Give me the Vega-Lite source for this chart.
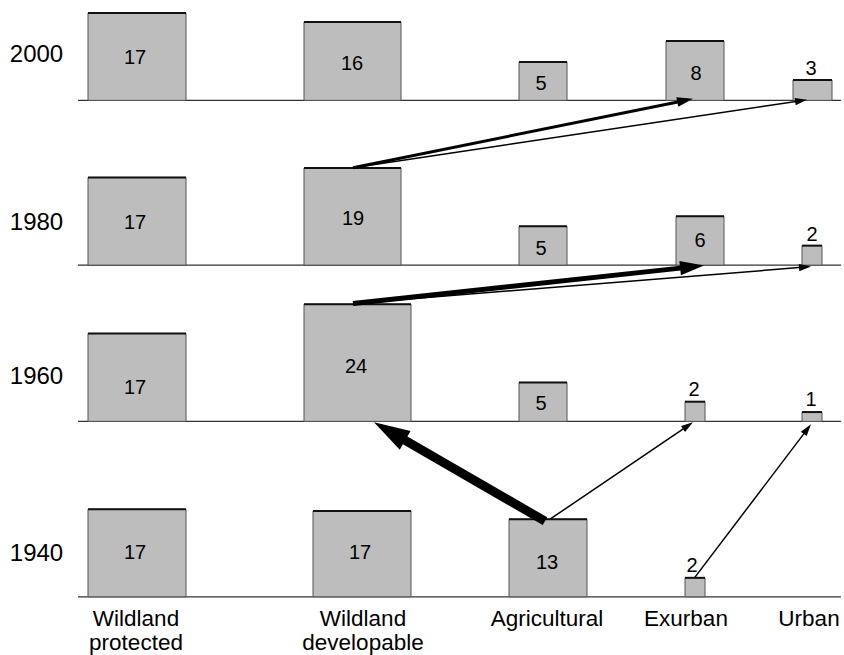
{
  "$schema": "https://vega.github.io/schema/vega-lite/v6.json",
  "width": 844,
  "height": 655,
  "autosize": {"type": "fit", "contains": "padding"},
  "padding": 0,
  "config": {"view": {"stroke": null}, "font": "Liberation Sans"},
  "datasets": {
    "rows": [
      {"year": "2000", "base": 554.5, "left": 78, "right": 841, "yearX": 36.5, "yearY": 592.5},
      {"year": "1980", "base": 389.5, "left": 78, "right": 841, "yearX": 36.5, "yearY": 425},
      {"year": "1960", "base": 233, "left": 78, "right": 841, "yearX": 36.5, "yearY": 270},
      {"year": "1940", "base": 57.3, "left": 78, "right": 841, "yearX": 36.5, "yearY": 93.5}
    ],
    "bars": [
      {"year": "2000", "cat": "Wildland protected", "value": 17, "x0": 88, "x1": 186, "base": 554.5, "top": 642, "lx": 135, "ly": 591},
      {"year": "2000", "cat": "Wildland developable", "value": 16, "x0": 304, "x1": 401, "base": 554.5, "top": 633, "lx": 352, "ly": 584.5},
      {"year": "2000", "cat": "Agricultural", "value": 5, "x0": 519, "x1": 567, "base": 554.5, "top": 593, "lx": 541, "ly": 565},
      {"year": "2000", "cat": "Exurban", "value": 8, "x0": 666, "x1": 724, "base": 554.5, "top": 614, "lx": 696, "ly": 575.3},
      {"year": "2000", "cat": "Urban", "value": 3, "x0": 793, "x1": 832, "base": 554.5, "top": 575, "lx": 811, "ly": 580},
      {"year": "1980", "cat": "Wildland protected", "value": 17, "x0": 88, "x1": 186, "base": 389.5, "top": 477.3, "lx": 135, "ly": 425.5},
      {"year": "1980", "cat": "Wildland developable", "value": 19, "x0": 304, "x1": 401, "base": 389.5, "top": 486.7, "lx": 353, "ly": 429.5},
      {"year": "1980", "cat": "Agricultural", "value": 5, "x0": 519, "x1": 567, "base": 389.5, "top": 428.3, "lx": 541, "ly": 399.5},
      {"year": "1980", "cat": "Exurban", "value": 6, "x0": 676, "x1": 724, "base": 389.5, "top": 438.3, "lx": 700, "ly": 407.8},
      {"year": "1980", "cat": "Urban", "value": 2, "x0": 802, "x1": 822, "base": 389.5, "top": 409, "lx": 812, "ly": 414},
      {"year": "1960", "cat": "Wildland protected", "value": 17, "x0": 88, "x1": 186, "base": 233, "top": 321, "lx": 135, "ly": 260.5},
      {"year": "1960", "cat": "Wildland developable", "value": 24, "x0": 304, "x1": 411, "base": 233, "top": 350.3, "lx": 356, "ly": 281},
      {"year": "1960", "cat": "Agricultural", "value": 5, "x0": 519, "x1": 567, "base": 233, "top": 272, "lx": 541, "ly": 244},
      {"year": "1960", "cat": "Exurban", "value": 2, "x0": 685, "x1": 705, "base": 233, "top": 252.7, "lx": 694, "ly": 258.5},
      {"year": "1960", "cat": "Urban", "value": 1, "x0": 802, "x1": 822, "base": 233, "top": 242.3, "lx": 811, "ly": 248.8},
      {"year": "1940", "cat": "Wildland protected", "value": 17, "x0": 88, "x1": 186, "base": 57.3, "top": 145, "lx": 135, "ly": 95},
      {"year": "1940", "cat": "Wildland developable", "value": 17, "x0": 313, "x1": 411, "base": 57.3, "top": 143.3, "lx": 360, "ly": 95},
      {"year": "1940", "cat": "Agricultural", "value": 13, "x0": 509, "x1": 587, "base": 57.3, "top": 135, "lx": 547, "ly": 85.5},
      {"year": "1940", "cat": "Exurban", "value": 2, "x0": 685, "x1": 705, "base": 57.3, "top": 76.3, "lx": 692, "ly": 82}
    ],
    "flows": [
      {"from": "Wildland developable 1980", "to": "Exurban 2000", "flow": 2, "x": 353, "y": 487, "tx": 693, "ty": 556},
      {"from": "Wildland developable 1980", "to": "Urban 2000", "flow": 1, "x": 353, "y": 487, "tx": 807, "ty": 555},
      {"from": "Wildland developable 1960", "to": "Exurban 1980", "flow": 4, "x": 353, "y": 351, "tx": 704, "ty": 389},
      {"from": "Wildland developable 1960", "to": "Urban 1980", "flow": 1, "x": 353, "y": 351, "tx": 811, "ty": 388},
      {"from": "Agricultural 1940", "to": "Wildland developable 1960", "flow": 7, "x": 545, "y": 133, "tx": 374, "ty": 232},
      {"from": "Agricultural 1940", "to": "Exurban 1960", "flow": 1, "x": 550, "y": 135, "tx": 693, "ty": 232},
      {"from": "Exurban 1940", "to": "Urban 1960", "flow": 1, "x": 695, "y": 77, "tx": 811, "ty": 230}
    ],
    "cats": [
      {"name": "Wildland\nprotected", "cx": 136, "cy": 28},
      {"name": "Wildland\ndevelopable", "cx": 363, "cy": 28},
      {"name": "Agricultural", "cx": 547, "cy": 28},
      {"name": "Exurban", "cx": 686, "cy": 28},
      {"name": "Urban", "cx": 809, "cy": 28}
    ]
  },
  "layer": [
    {
      "data": {"name": "rows"},
      "mark": {"type": "rule", "color": "#333333", "strokeWidth": 1.2},
      "encoding": {
        "x": {"field": "left", "type": "quantitative", "scale": {"domain": [0, 844], "nice": false, "zero": false}, "axis": null},
        "x2": {"field": "right"},
        "y": {"field": "base", "type": "quantitative", "scale": {"domain": [0, 655], "nice": false, "zero": false}, "axis": null}
      }
    },
    {
      "data": {"name": "rows"},
      "mark": {"type": "text", "fontSize": 24, "align": "center", "baseline": "alphabetic", "color": "black"},
      "encoding": {
        "x": {"field": "yearX", "type": "quantitative"},
        "y": {"field": "yearY", "type": "quantitative"},
        "text": {"field": "year"}
      }
    },
    {
      "data": {"name": "bars"},
      "mark": {"type": "rect", "fill": "#bdbdbd", "stroke": "#555555", "strokeWidth": 1},
      "encoding": {
        "x": {"field": "x0", "type": "quantitative"},
        "x2": {"field": "x1"},
        "y": {"field": "base", "type": "quantitative"},
        "y2": {"field": "top"}
      }
    },
    {
      "data": {"name": "bars"},
      "mark": {"type": "rule", "color": "#111111", "strokeWidth": 2},
      "encoding": {
        "x": {"field": "x0", "type": "quantitative"},
        "x2": {"field": "x1"},
        "y": {"field": "top", "type": "quantitative"}
      }
    },
    {
      "data": {"name": "bars"},
      "mark": {"type": "text", "fontSize": 20, "align": "center", "baseline": "alphabetic", "color": "black"},
      "encoding": {
        "x": {"field": "lx", "type": "quantitative"},
        "y": {"field": "ly", "type": "quantitative"},
        "text": {"field": "value", "type": "quantitative"}
      }
    },
    {
      "data": {"name": "flows"},
      "transform": [
        {"calculate": "datum.tx - datum.x", "as": "dx"},
        {"calculate": "datum.ty - datum.y", "as": "dy"},
        {"calculate": "sqrt(datum.dx*datum.dx + datum.dy*datum.dy)", "as": "len"},
        {"calculate": "0.5*(8+4*datum.flow)", "as": "back"},
        {"calculate": "datum.tx - datum.dx/datum.len*datum.back", "as": "ex"},
        {"calculate": "datum.ty - datum.dy/datum.len*datum.back", "as": "ey"}
      ],
      "mark": {"type": "rule", "color": "black"},
      "encoding": {
        "x": {"field": "x", "type": "quantitative"},
        "y": {"field": "y", "type": "quantitative"},
        "x2": {"field": "ex"},
        "y2": {"field": "ey"},
        "size": {"field": "flow", "type": "quantitative", "scale": {"domain": [1, 2, 4, 7], "range": [1.5, 3, 5, 9]}, "legend": null}
      }
    },
    {
      "data": {"name": "flows"},
      "transform": [
        {"calculate": "(atan2(datum.tx - datum.x, datum.ty - datum.y)*180/PI + 360) % 360", "as": "ang"}
      ],
      "mark": {"type": "point", "shape": "M0,0L-0.6,2L0.6,2Z", "filled": true, "opacity": 1, "color": "black", "strokeWidth": 0},
      "encoding": {
        "x": {"field": "tx", "type": "quantitative"},
        "y": {"field": "ty", "type": "quantitative"},
        "angle": {"field": "ang", "type": "quantitative", "scale": null},
        "size": {"field": "flow", "type": "quantitative", "scale": {"domain": [1, 2, 4, 7], "range": [144, 256, 576, 1296]}, "legend": null}
      }
    },
    {
      "data": {"name": "cats"},
      "mark": {"type": "text", "fontSize": 22.5, "align": "center", "baseline": "alphabetic", "lineBreak": "\n", "lineHeight": 24, "color": "black"},
      "encoding": {
        "x": {"field": "cx", "type": "quantitative"},
        "y": {"field": "cy", "type": "quantitative"},
        "text": {"field": "name"}
      }
    }
  ],
  "resolve": {"scale": {"size": "independent"}}
}
